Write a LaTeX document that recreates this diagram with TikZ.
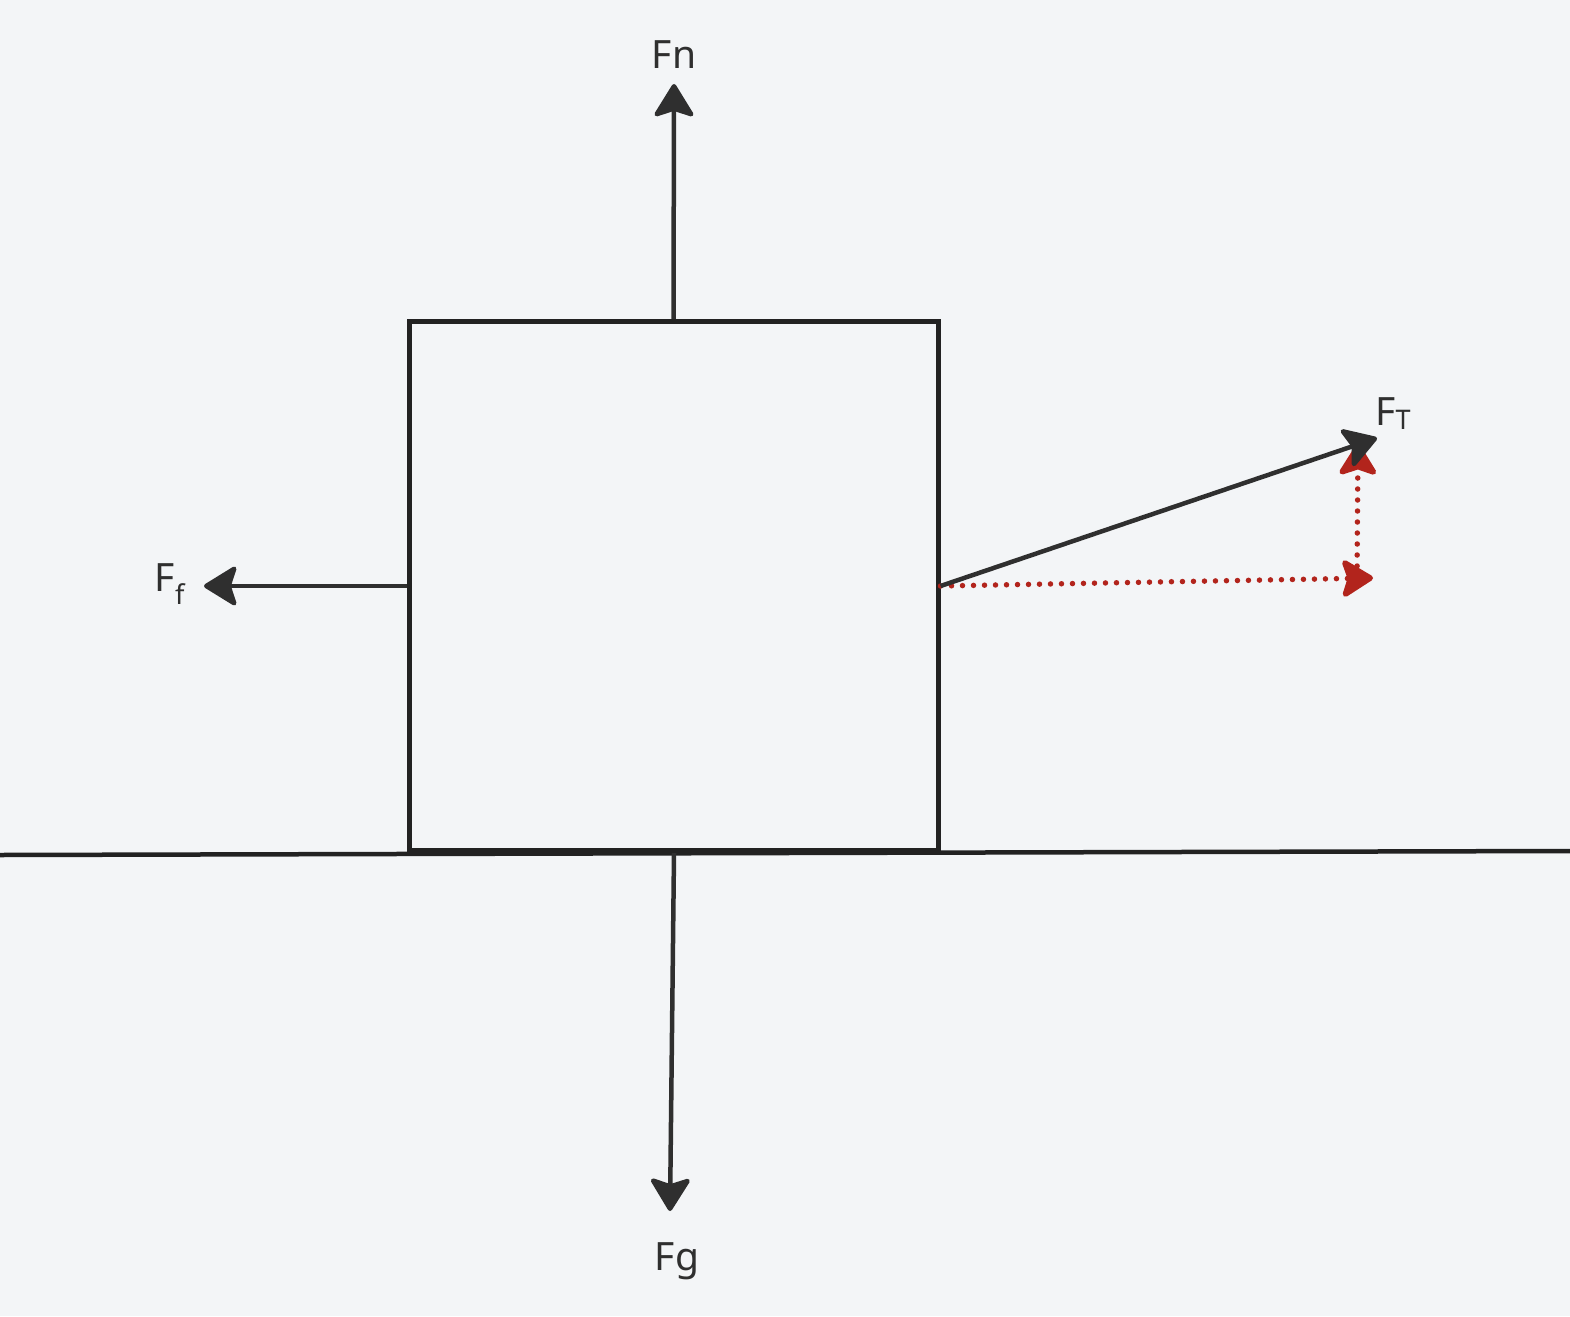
\documentclass[tikz,border=0pt]{standalone}
\usepackage{fontspec}
\setmainfont{Noto Sans}
\usetikzlibrary{arrows.meta}
\definecolor{ink}{HTML}{2F2F2F}
\definecolor{edge}{HTML}{222222}
\definecolor{vecred}{HTML}{B2241C}
\definecolor{paper}{HTML}{F3F5F7}
\tikzstyle{block}=[draw=edge, line width=5pt, minimum width=529pt, minimum height=529pt, inner sep=0pt]
\tikzstyle{force}=[draw=ink, line width=4.5pt, -{Stealth[length=36pt, width=44pt, inset=7pt, round, fill=ink]}]
\tikzstyle{part}=[draw=vecred, line width=5.5pt, line cap=round, dash pattern=on 0pt off 11pt, -{Stealth[length=35pt, width=43pt, inset=7pt, round, fill=vecred]}]
\tikzstyle{lbl}=[text=ink, font=\fontsize{39}{47}\selectfont, inner sep=0pt]

\begin{document}
\begin{tikzpicture}[x=1pt, y=-1pt]
                    \useasboundingbox (0,0) rectangle (1570,1316);
                    \fill[paper] (0,0) rectangle (1570,1316);
                    \node[block] (box) at (673.5,586) {};
                    % ground line
                    \coordinate (gl) at (0,855);
                    \coordinate (gr) at (1570,851);
                    \draw[edge, line width=4.5pt] (gl) -- (gr);
                    % free ends of the forces
                    \coordinate (ntip) at (674,84);
                    \coordinate (ftip) at (204,586);
                    \coordinate (gtip) at (670,1211);
                    \coordinate (ttip) at (1377,438);
                    \coordinate (xtip) at (1373,578);
                    \coordinate (ybase) at (1357,577);
                    \coordinate (ytip) at (1358,444);
                    \draw[part] (box.east) -- (xtip);
                    \draw[part] (ybase) -- (ytip);
                    \draw[force] (box.north) -- (ntip);
                    \draw[force] (box.west) -- (ftip);
                    \draw[force] (674,853) -- (gtip);
                    \draw[force] (box.east) -- (ttip);
                    \node[lbl] (fn) at (674,55) {Fn};
                    \node[lbl] (ff) at (170,584) {F\textsubscript{f}};
                    \node[lbl] (fg) at (677,1261) {Fg};
                    \node[lbl] (ft) at (1393,414) {F\raisebox{-4pt}{\fontsize{27}{30}\selectfont T}};
                \end{tikzpicture}
\end{document}
